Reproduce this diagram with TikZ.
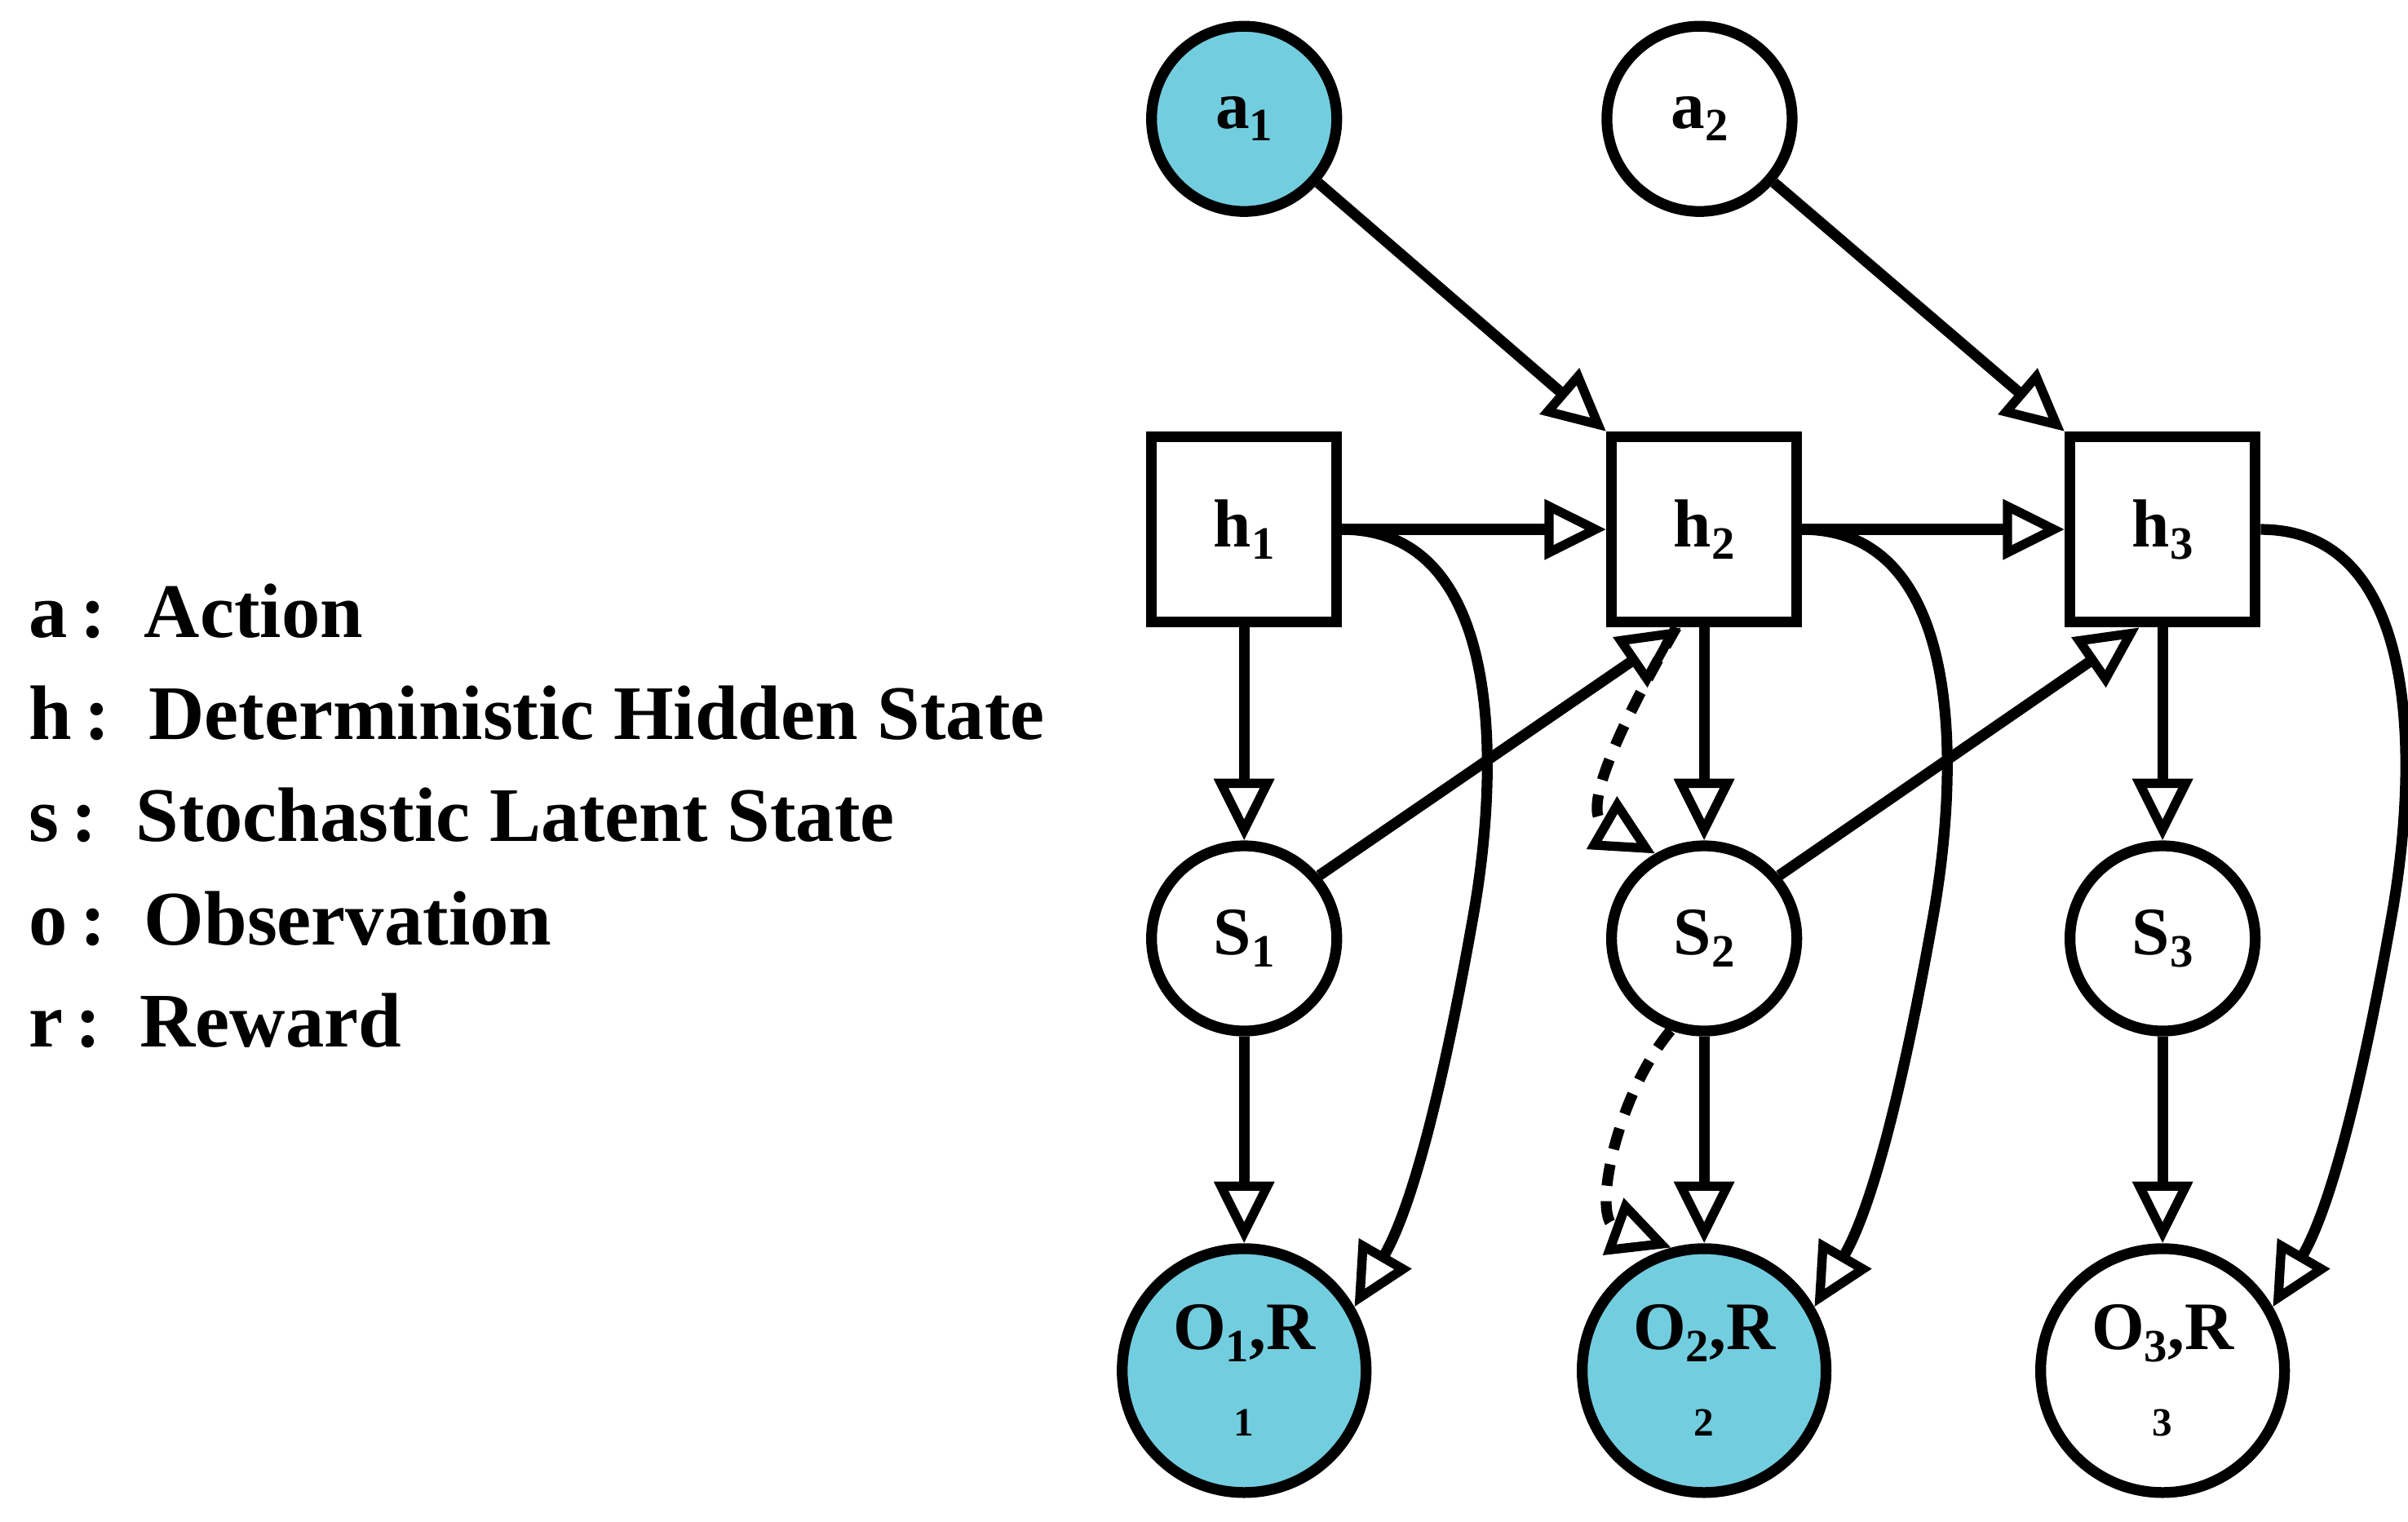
\documentclass[tikz,border=0pt]{standalone}
\usepackage{fontspec}
\setmainfont{Liberation Serif}
\usetikzlibrary{arrows.meta}
\definecolor{cy}{HTML}{72CDDF}
\newcommand{\sbs}[1]{\raisebox{-0.18em}{\fontsize{30}{30}\selectfont #1}}
\begin{document}
\begin{tikzpicture}[x=1pt,y=-1pt,
  lw/.style={line width=7pt},
  circ/.style={circle,draw,lw,minimum size=120pt,inner sep=0pt,font=\fontsize{44}{44}\selectfont\bfseries},
  big/.style={circle,draw,lw,minimum size=158pt,inner sep=0pt,font=\fontsize{44}{44}\selectfont\bfseries},
  sq/.style={rectangle,draw,lw,minimum size=120pt,inner sep=0pt,font=\fontsize{44}{44}\selectfont\bfseries},
  ar/.style={lw,-{Triangle[open,length=40pt,width=38pt,line width=6pt]}},
  leg/.style={anchor=base west,font=\fontsize{50}{50}\selectfont\bfseries}]
\useasboundingbox (0,0) rectangle (1560,986);
\node[circ,fill=cy] (a1) at (806,77) {a\sbs{1}};
\node[circ] (a2) at (1101,77) {a\sbs{2}};
\node[sq] (h1) at (806,343) {h\sbs{1}};
\node[sq] (h2) at (1104,343) {h\sbs{2}};
\node[sq] (h3) at (1401,343) {h\sbs{3}};
\node[circ] (s1) at (806,608) {S\sbs{1}};
\node[circ] (s2) at (1104,608) {S\sbs{2}};
\node[circ] (s3) at (1401,608) {S\sbs{3}};
\node[big,fill=cy,align=center] (o1) at (806,888) {O\sbs{1},R\\[12pt]{\fontsize{26}{26}\selectfont 1}};
\node[big,fill=cy,align=center] (o2) at (1104,888) {O\sbs{2},R\\[12pt]{\fontsize{26}{26}\selectfont 2}};
\node[big,align=center] (o3) at (1401,888) {O\sbs{3},R\\[12pt]{\fontsize{26}{26}\selectfont 3}};
\draw[ar] (a1) -- (h2.north west);
\draw[ar] (a2) -- (h3.north west);
\draw[ar] (h1) -- (h2);
\draw[ar] (h2) -- (h3);
\foreach \i in {1,2,3}{
  \draw[ar] (h\i) -- (s\i);
  \draw[ar] (s\i) -- (o\i);
  \draw[ar] (h\i.east) to[out=0,in=80,looseness=1] ++(85,250) to[out=-100,in=60,looseness=0.8] (o\i.30);
}
\draw[ar] (s1.40) -- ([xshift=-15pt]h2.south);
\draw[ar] (s2.40) -- ([xshift=-15pt]h3.south);
\draw[ar,dashed,dash pattern=on 14pt off 10pt] ([xshift=-18pt]h2.south) to[out=-120,in=150] (s2.120);
\draw[ar,dashed,dash pattern=on 14pt off 10pt] (s2.-110) to[out=-130,in=160] (o2.105);
\node[leg] (l1) at (15,413) {a\,:\ \ Action};
\node[leg] (l2) at (15,479) {h\,:\ \ Deterministic Hidden State};
\node[leg] (l3) at (15,545) {s\,:\ \ Stochastic Latent State};
\node[leg] (l4) at (15,612) {o\,:\ \ Observation};
\node[leg] (l5) at (15,678) {r\,:\ \ Reward};
\end{tikzpicture}
\end{document}
